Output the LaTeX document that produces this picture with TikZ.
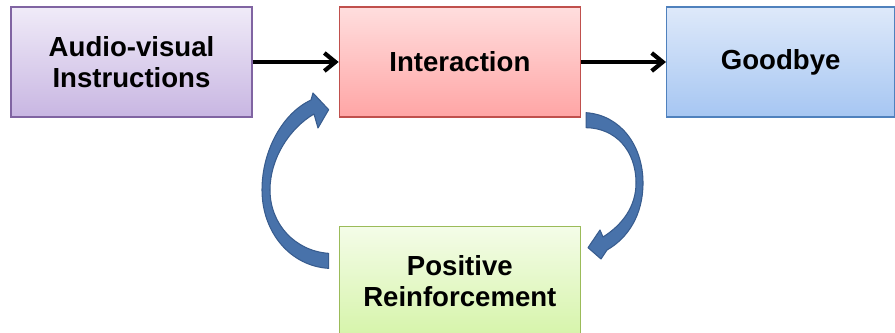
\documentclass[tikz,border=0pt]{standalone}
\usepackage{fontspec}
\setmainfont{Liberation Sans}
\usepackage{xcolor}
\usepackage{tikz}
\usetikzlibrary{arrows.meta,positioning}

\definecolor{purpletop}{RGB}{240,235,248}
\definecolor{purplebot}{RGB}{200,182,226}
\definecolor{purpleline}{RGB}{128,100,162}
\definecolor{pinktop}{RGB}{255,222,222}
\definecolor{pinkbot}{RGB}{255,165,165}
\definecolor{pinkline}{RGB}{192,80,77}
\definecolor{bluetop}{RGB}{222,233,250}
\definecolor{bluebot}{RGB}{166,198,242}
\definecolor{blueline}{RGB}{79,129,189}
\definecolor{greentop}{RGB}{244,252,232}
\definecolor{greenbot}{RGB}{214,244,170}
\definecolor{greenline}{RGB}{155,187,89}
\definecolor{loopblue}{RGB}{72,114,170}
\definecolor{loopedge}{RGB}{56,92,142}

\tikzset{
	box/.style={draw,line width=0.8pt,minimum width=4.82cm,minimum height=2.2cm,
		align=center,font=\bfseries\fontsize{15.7}{17.6}\selectfont},
	loop/.style={fill=loopblue,draw=loopedge,line width=0.6pt,line join=round},
}

\begin{document}
\begin{tikzpicture}[x=0.02cm,y=-0.02cm,>={Straight Barb[length=0.22cm,width=0.36cm]}]
	\useasboundingbox (0,0) rectangle (895,333);
	\node[box,draw=purpleline,top color=purpletop,bottom color=purplebot] (audio) at (131.5,62) {Audio-visual\\Instructions};
	\node[box,draw=pinkline,top color=pinktop,bottom color=pinkbot,right=1.72cm of audio] (inter) {Interaction};
	\node[box,draw=blueline,top color=bluetop,bottom color=bluebot,minimum width=4.56cm,right=1.7cm of inter] (bye) {Goodbye};
	\node[box,draw=greenline,top color=greentop,bottom color=greenbot,below=2.16cm of inter] (pos) {Positive\\Reinforcement};
	\draw[->,line width=2.4pt] (audio) -- (inter);
	\draw[->,line width=2.4pt] (inter) -- (bye);
	% loop back up, left side
	\draw[loop] ([shift={(-10,-13)}]pos.west) .. controls (290,266) and (262,232) .. (262,190)
		.. controls (262,150) and (283,113) .. (311,100) -- (313,93) -- ([shift={(-10,-8)}]inter.south west)
		-- (318,128) -- (314,114) .. controls (290,128) and (270,158) .. (270,190)
		.. controls (270,224) and (295,251) .. ([shift={(-10,-28)}]pos.west) -- cycle;
	% loop down, right side
	\draw[loop] ([shift={(5,-5)}]inter.south east) .. controls (620,115) and (643,145) .. (643,183)
		.. controls (643,215) and (628,238) .. (607,250) -- (601,259) -- ([shift={(7,22)}]pos.north east)
		-- (600,230) -- (603,237) .. controls (622,225) and (636,207) .. (636,183)
		.. controls (636,150) and (615,128) .. ([shift={(5,10)}]inter.south east) -- cycle;
\end{tikzpicture}
\end{document}
